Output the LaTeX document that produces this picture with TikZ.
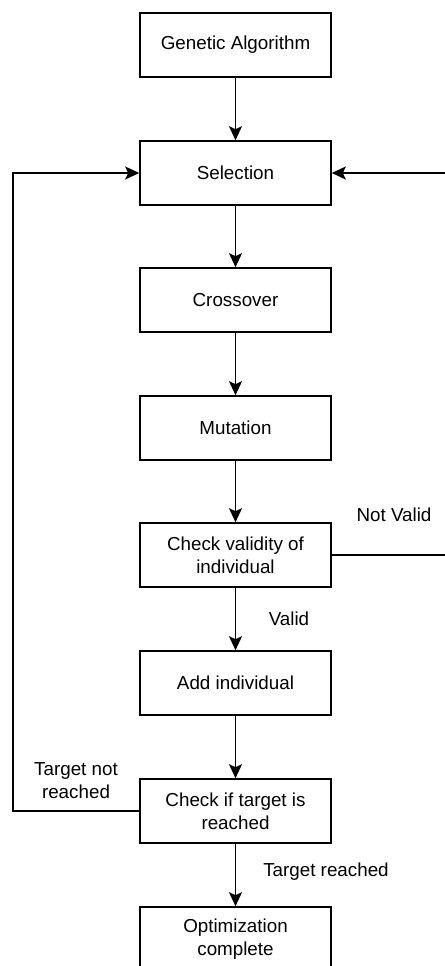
\documentclass[tikz,border=0pt]{standalone}
\usepackage{fontspec}
\setmainfont{Liberation Sans}
\usetikzlibrary{arrows.meta}
\begin{document}
\begin{tikzpicture}[x=0.5pt,y=-0.5pt,line width=0.8pt,
  stage/.style={draw=black,minimum width=95.5pt,minimum height=32pt,align=center,inner sep=1pt,font=\fontsize{9.4}{11.5}\selectfont},
  flow/.style={-{Stealth[length=7pt,width=6.5pt,inset=1.5pt]}},
  note/.style={align=center,inner sep=0pt,font=\fontsize{9.4}{11.5}\selectfont}]
\useasboundingbox (0,0) rectangle (445,966);
\clip (0,0) rectangle (445,966);
\node[stage] (ga) at (235.5,45) {Genetic Algorithm};
\node[stage] (sel) at (235.5,173) {Selection};
\node[stage] (cross) at (235.5,300) {Crossover};
\node[stage] (mut) at (235.5,428) {Mutation};
\node[stage] (valid) at (235.5,555) {Check validity of\\individual};
\node[stage] (add) at (235.5,683) {Add individual};
\node[stage] (target) at (235.5,811) {Check if target is\\reached};
\node[stage] (done) at (235.5,939) {Optimization\\complete};
\coordinate (leftbot) at (13,811);
\coordinate (lefttop) at (13,173);
\coordinate (rightbot) at (452,555);
\coordinate (righttop) at (452,173);
\draw[flow] (ga) -- (sel);
\draw[flow] (sel) -- (cross);
\draw[flow] (cross) -- (mut);
\draw[flow] (mut) -- (valid);
\draw[flow] (valid) -- (add);
\draw[flow] (add) -- (target);
\draw[flow] (target) -- (done);
\draw[flow] (valid.east) -- (rightbot) -- (righttop) -- (sel.east);
\draw[flow] (target.west) -- (leftbot) -- (lefttop) -- (sel.west);
\node[note] (notvalid) at (394,515) {Not Valid};
\node[note] (isvalid) at (289,619) {Valid};
\node[note] (notreached) at (76,781) {Target not\\reached};
\node[note] (reached) at (326,872) {Target reached};
\end{tikzpicture}
\end{document}
